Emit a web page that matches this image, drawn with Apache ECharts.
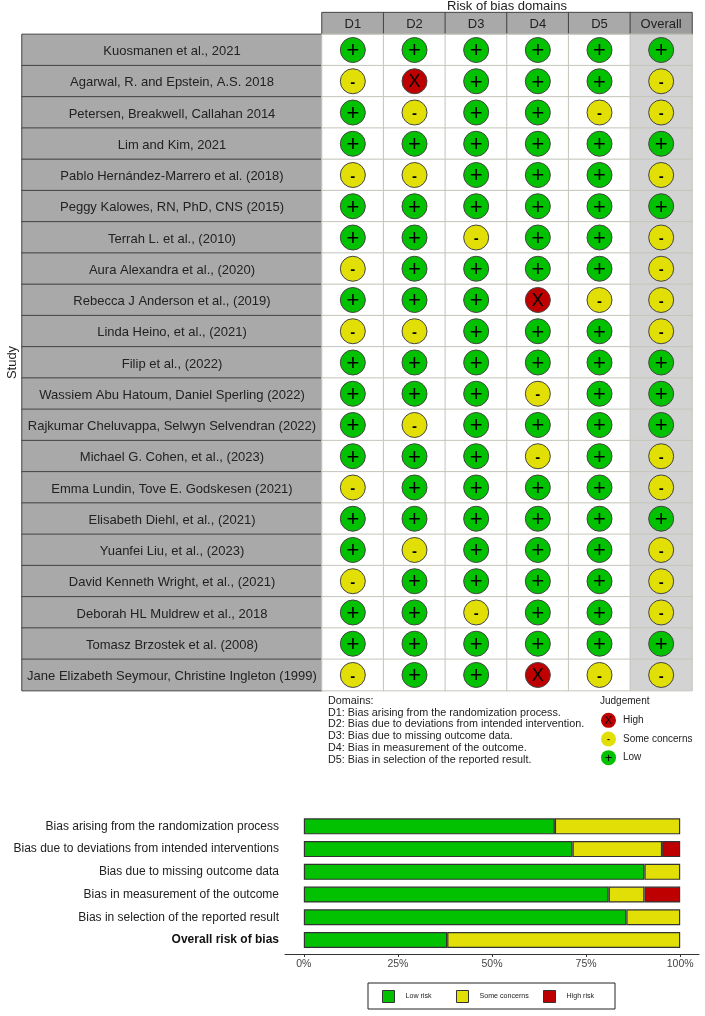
<!DOCTYPE html>
<html>
<head>
<meta charset="utf-8">
<style>html,body{margin:0;padding:0;background:#fff}#main{width:705px;height:1016px}</style>
<script src="https://cdn.jsdelivr.net/npm/echarts@6/dist/echarts.min.js"></script>
</head>
<body>
<div id="main"></div>
<script>
var studies = ['Kuosmanen et al., 2021','Agarwal, R. and Epstein, A.S. 2018','Petersen, Breakwell, Callahan 2014','Lim and Kim, 2021',
  'Pablo Hernández-Marrero et al. (2018)','Peggy Kalowes, RN, PhD, CNS (2015)','Terrah L. et al., (2010)','Aura Alexandra et al., (2020)',
  'Rebecca J Anderson et al., (2019)','Linda Heino, et al., (2021)','Filip et al., (2022)','Wassiem Abu Hatoum, Daniel Sperling (2022)',
  'Rajkumar Cheluvappa, Selwyn Selvendran (2022)','Michael G. Cohen, et al., (2023)','Emma Lundin, Tove E. Godskesen (2021)','Elisabeth Diehl, et al., (2021)',
  'Yuanfei Liu, et al., (2023)','David Kenneth Wright, et al., (2021)','Deborah HL Muldrew et al., 2018','Tomasz Brzostek et al. (2008)',
  'Jane Elizabeth Seymour, Christine Ingleton (1999)'];
var domains = ['D1','D2','D3','D4','D5','Overall'];
// one judgement per study
var d1 =      ['+','-','+','+','-','+','+','-','+','-','+','+','+','+','-','+','+','-','+','+','-'];
var d2 =      ['+','X','-','+','-','+','+','+','+','-','+','+','-','+','+','+','-','+','+','+','+'];
var d3 =      ['+','+','+','+','+','+','-','+','+','+','+','+','+','+','+','+','+','+','-','+','+'];
var d4 =      ['+','+','+','+','+','+','+','+','X','+','+','-','+','-','+','+','+','+','+','+','X'];
var d5 =      ['+','+','-','+','+','+','+','+','-','+','+','+','+','+','+','+','+','+','+','+','-'];
var overall = ['+','-','-','+','-','+','-','-','-','-','+','+','+','-','-','+','-','-','-','+','-'];
var judgements = [d1,d2,d3,d4,d5,overall];

var barCats = ['Bias arising from the randomization process','Bias due to deviations from intended interventions','Bias due to missing outcome data',
  'Bias in measurement of the outcome','Bias in selection of the reported result','Overall risk of bias'];
var lowRisk =  [66.7,71.4,90.5,81.0,85.7,38.1];
var someRisk = [33.3,23.8,9.5,9.5,14.3,61.9];
var highRisk = [0,4.8,0,9.5,0,0];
var xTicks = [0,25,50,75,100];

var legendNames = ['High','Some concerns','Low'];
var domainText = ['Domains:','D1: Bias arising from the randomization process.','D2: Bias due to deviations from intended intervention.',
  'D3: Bias due to missing outcome data.','D4: Bias in measurement of the outcome.','D5: Bias in selection of the reported result.'];

var FONT = 'Liberation Sans';
var GREEN = '#02C100', YELLOW = '#E2DF07', RED = '#BF0000';
var colorOf = {'+':GREEN,'-':YELLOW,'X':RED};
var sizeOf = {'+':22,'-':15,'X':18};
var liftOf = {'+':1.2,'-':1.5,'X':1.2}; // glyphs sit high in their line box

function pointItem(x,y,j,big){
  var k = big?1:0.6;
  return {
    value:[x,y],
    itemStyle:{color:colorOf[j]},
    label:{formatter:j,fontSize:Math.round(sizeOf[j]*k),fontWeight:j=='-'?'bold':'normal',offset:[0,liftOf[j]*k]}
  };
}

var cells = [], points = [];
domains.forEach(function(d,c){
  studies.forEach(function(s,r){
    cells.push({value:[c,r,1],itemStyle:{color:d=='Overall'?'#d3d3d3':'#fff'}});
    points.push(pointItem(c,r,judgements[c][r],true));
  });
});

function hiddenAxis(extra){
  return Object.assign({type:'category',axisLine:{show:false},axisTick:{show:false},axisLabel:{show:false},splitLine:{show:false}},extra);
}

var option = {
  animation:false,
  backgroundColor:'#fff',
  textStyle:{fontFamily:FONT},
  title:[
    {text:'Risk of bias domains',left:507,top:0,textAlign:'center',padding:0,textStyle:{fontFamily:FONT,fontSize:13,fontWeight:'normal',color:'#222'}},
    {text:domainText.join('\n'),left:328,top:695,padding:0,textStyle:{fontFamily:FONT,fontSize:10.8,lineHeight:11.8,fontWeight:'normal',color:'#222'}},
    {text:'Judgement',left:600,top:696,padding:0,textStyle:{fontFamily:FONT,fontSize:10,fontWeight:'normal',color:'#222'}}
  ],
  grid:[
    {left:22,top:34.4,width:300,height:656.2},     // study names
    {left:322,top:12.6,width:370,height:21.8},     // domain header
    {left:322,top:34.4,width:370,height:656.2},    // traffic light cells
    {left:599,top:711,width:19,height:56},         // judgement legend
    {left:285,top:815,width:414,height:136.4}      // summary bars
  ],
  xAxis:[
    hiddenAxis({gridIndex:0,data:['Study']}),
    hiddenAxis({gridIndex:1,data:domains}),
    hiddenAxis({gridIndex:2,data:domains}),
    hiddenAxis({gridIndex:3,data:['j']}),
    {gridIndex:4,type:'value',min:-5,max:105,offset:2.6,
      axisLine:{show:true,lineStyle:{color:'#333',width:1}},
      axisTick:{show:true,length:3,customValues:xTicks,lineStyle:{color:'#333'}},
      axisLabel:{customValues:xTicks,formatter:'{value}%',fontFamily:FONT,fontSize:10.5,color:'#444',margin:5},
      splitLine:{show:false}}
  ],
  yAxis:[
    hiddenAxis({gridIndex:0,data:studies,inverse:true,name:'Study',nameLocation:'middle',nameGap:3,nameRotate:90,
      nameTextStyle:{fontFamily:FONT,fontSize:13,color:'#222'}}),
    hiddenAxis({gridIndex:1,data:['h']}),
    hiddenAxis({gridIndex:2,data:studies,inverse:true}),
    {gridIndex:3,type:'category',data:legendNames,inverse:true,position:'right',
      axisLine:{show:false},axisTick:{show:false},splitLine:{show:false},
      axisLabel:{fontFamily:FONT,fontSize:10,color:'#222',margin:5}},
    {gridIndex:4,type:'category',inverse:true,
      data:barCats.map(function(c,i){
        return i==5?{value:c,textStyle:{fontWeight:'bold',color:'#111'}}:c;
      }),
      axisLine:{show:false},axisTick:{show:false},
      axisLabel:{fontFamily:FONT,fontSize:12,color:'#222',margin:6}}
  ],
  series:[
    {type:'heatmap',xAxisIndex:0,yAxisIndex:0,
      data:studies.map(function(s,r){return {value:[0,r,1],name:s};}),
      itemStyle:{color:'#a9a9a9',borderColor:'#444',borderWidth:1},
      label:{show:true,fontFamily:FONT,fontSize:13,color:'#222',offset:[0,1.5],formatter:function(p){return p.name;}}},
    {type:'heatmap',xAxisIndex:1,yAxisIndex:1,
      data:domains.map(function(d,c){return {value:[c,0,1],name:d,itemStyle:{color:d=='Overall'?'#9c9c9c':'#a9a9a9'}};}),
      itemStyle:{borderColor:'#444',borderWidth:1},
      label:{show:true,fontFamily:FONT,fontSize:13,color:'#222',offset:[0,1],formatter:function(p){return p.name;}}},
    {type:'heatmap',xAxisIndex:2,yAxisIndex:2,data:cells,
      itemStyle:{borderColor:'#c4c6bc',borderWidth:1}},
    {type:'scatter',xAxisIndex:2,yAxisIndex:2,data:points,symbol:'circle',symbolSize:25,z:5,
      itemStyle:{borderColor:'#444',borderWidth:1,opacity:1},
      label:{show:true,position:'inside',fontFamily:FONT,color:'#000'}},
    {type:'scatter',xAxisIndex:3,yAxisIndex:3,symbol:'circle',symbolSize:15,
      data:[pointItem(0,0,'X',false),pointItem(0,1,'-',false),pointItem(0,2,'+',false)],
      itemStyle:{opacity:1},
      label:{show:true,position:'inside',fontFamily:FONT,color:'#000'}},
    {name:'Low risk',type:'bar',stack:'risk',xAxisIndex:4,yAxisIndex:4,barWidth:16,data:lowRisk,
      itemStyle:{color:GREEN,borderColor:'#333',borderWidth:1.2}},
    {name:'Some concerns',type:'bar',stack:'risk',xAxisIndex:4,yAxisIndex:4,barWidth:16,data:someRisk,
      itemStyle:{color:YELLOW,borderColor:'#333',borderWidth:1.2}},
    {name:'High risk',type:'bar',stack:'risk',xAxisIndex:4,yAxisIndex:4,barWidth:16,
      data:highRisk.map(function(v){return v>0?v:null;}),
      itemStyle:{color:RED,borderColor:'#333',borderWidth:1.2}}
  ],
  legend:[
    {data:['Low risk'],left:382,top:990,padding:0},
    {data:['Some concerns'],left:456,top:990,padding:0},
    {data:['High risk'],left:543,top:990,padding:0}
  ].map(function(l){
    return Object.assign(l,{itemWidth:12,itemHeight:12,itemGap:0,icon:'rect',
      textStyle:{fontFamily:FONT,fontSize:7.1,color:'#222',padding:[0,0,0,6]},
      itemStyle:{borderColor:'#333',borderWidth:1}});
  }),
  graphic:[
    {type:'rect',shape:{x:368,y:983,width:247,height:26},style:{fill:'none',stroke:'#222',lineWidth:1},silent:true}
  ]
};

var chart = echarts.init(document.getElementById('main'),null,{renderer:'canvas'});
chart.setOption(option);
</script>
</body>
</html>
